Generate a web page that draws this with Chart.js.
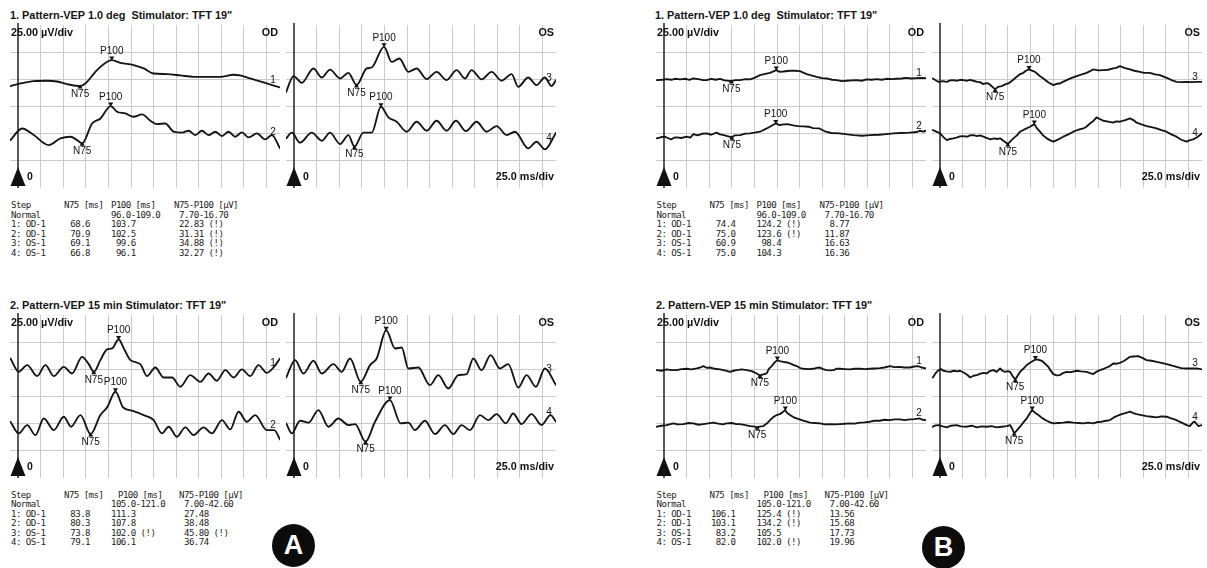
<!DOCTYPE html>
<html><head><meta charset="utf-8">
<script src="https://cdn.jsdelivr.net/npm/chart.js@4.4.1/dist/chart.umd.min.js"></script>
<style>
html,body{margin:0;padding:0;background:#fff;}
body{width:1207px;height:568px;position:relative;overflow:hidden;}
.cv{position:absolute;}
.ttl{position:absolute;font:bold 10.9px "Liberation Sans",Arial,sans-serif;color:#151515;white-space:pre;line-height:12px;}
.tb{position:absolute;font:9.1px "DejaVu Sans Mono",monospace;color:#1c1c1c;white-space:pre;line-height:10px;height:10px;letter-spacing:-0.55px;}
.circ{position:absolute;width:43px;height:43px;border-radius:50%;background:#0c0c0c;color:#fff;font:bold 27px "Liberation Sans",Arial,sans-serif;text-align:center;line-height:43px;}
</style></head><body>
<div class="ttl" style="left:10px;top:9px">1. Pattern-VEP 1.0 deg  Stimulator: TFT 19"</div>
<div class="ttl" style="left:10px;top:299px">2. Pattern-VEP 15 min Stimulator: TFT 19"</div>
<div class="ttl" style="left:655px;top:9px">1. Pattern-VEP 1.0 deg  Stimulator: TFT 19"</div>
<div class="ttl" style="left:656px;top:299px">2. Pattern-VEP 15 min Stimulator: TFT 19"</div>
<div class="circ" style="left:272px;top:524px">A</div>
<div class="circ" style="left:922px;top:526px">B</div>
<script>
// ---------- axis / grid ----------
const T_MIN = -9, T_MAX = 290;        // ms
const V_MIN = 0, V_MAX = 150;         // µV
const X_GRID = [0,25,50,75,100,125,150,175,200,225,250,275];
const Y_GRID = [25,50,75,100,125];
const UV_DIV = '25.00 µV/div';
const MS_DIV = '25.0 ms/div';

// ---------- traces [ms, µV] ----------
// A, 1.0 deg
const A1_OD_1 = [[-8.5,93.8],[2.6,96.2],[17.3,98.4],[32.1,98.7],[43.1,98.0],[54.2,95.6],[68.6,93.8],[74.5,96.2],[87.4,108.5],[103.7,117.7],[113.2,115.2],[127.9,113.1],[139,110.0],[150.1,105.4],[164.8,104.8],[179.6,103.6],[194.3,102.3],[209.1,102.3],[223.8,102.3],[238.6,104.2],[245.9,103.6],[257,100.8],[271.8,97.1],[290,92.5]];
const A1_OD_2 = [[-8.5,44.1],[4.4,54.8],[17.3,48.7],[33.9,39.5],[46.8,45.7],[57.9,47.2],[65.3,44.1],[70.9,41.1],[81.9,59.4],[91.1,64.0],[102.5,75.4],[109.5,70.2],[118.7,68.6],[127.9,65.6],[137.2,67.7],[146.4,61.9],[153.8,58.8],[163.0,59.4],[172.2,51.8],[181.4,50.9],[188.8,52.7],[196.2,48.7],[203.5,52.7],[210.9,48.7],[218.3,51.8],[225.7,47.8],[233.0,51.8],[240.4,47.2],[247.8,51.2],[255.2,46.6],[264.4,50.2],[273.6,44.7],[281.0,48.7],[290,36.5]];
const A1_OS_3 = [[-8.8,88.5],[-0.7,103.0],[8.5,96.8],[21.4,110.0],[30.6,101.7],[39.8,109.0],[50.9,100.8],[60.1,106.0],[69.1,94.7],[80.4,110.0],[85.9,110.9],[99.6,129.9],[108.0,116.1],[116.5,119.2],[126.5,106.9],[135.7,110.0],[146.8,100.2],[157.8,106.9],[168.9,99.3],[179.9,108.5],[189.2,100.8],[196.5,108.5],[207.6,99.9],[218.7,106.9],[229.7,98.7],[240.8,104.8],[248.2,93.1],[259.2,101.7],[268.4,94.7],[277.7,101.7],[285.0,93.8],[290,99.3]];
const A1_OS_4 = [[-8.8,45.6],[-2.6,50.9],[6.6,41.7],[19.5,50.9],[30.6,43.5],[39.8,50.9],[50.9,40.4],[60.1,48.7],[66.8,38.0],[76.7,50.9],[85.9,50.9],[96.1,74.8],[104.4,65.0],[113.6,61.0],[124.6,51.8],[135.7,61.0],[146.8,52.7],[157.8,61.9],[168.9,52.7],[179.2,61.9],[190.3,52.4],[202.1,61.0],[213.1,51.8],[224.2,57.0],[235.3,48.7],[244.5,51.8],[259.2,36.5],[268.4,42.6],[277.7,35.5],[290,50.9]];
// A, 15 min
const A2_OD_1 = [[-8.5,110.0],[0.7,97.7],[10.0,103.9],[21.0,93.8],[30.2,103.9],[39.5,93.8],[50.5,102.3],[59.7,96.2],[70.8,111.5],[78.2,104.8],[83.8,97.7],[91.1,108.5],[98.5,118.3],[104.0,119.2],[111.3,127.5],[117.6,118.3],[124.3,108.5],[135.3,104.8],[142.7,93.8],[151.9,101.7],[161.1,92.5],[170.4,92.5],[179.6,84.0],[190.6,94.7],[201.7,88.5],[210.9,96.2],[220.1,89.5],[229.4,99.3],[238.6,92.5],[247.8,99.9],[257.0,93.8],[266.2,103.9],[275.4,96.8],[282.8,101.7],[290,110.0]];
const A2_OD_2 = [[-8.5,51.8],[0.7,41.1],[10.0,48.7],[19.2,39.5],[28.4,54.8],[39.5,44.1],[50.5,56.4],[58.6,47.2],[69.0,57.9],[80.3,40.4],[91.1,57.9],[98.5,65.0],[107.8,79.4],[116.2,65.0],[126.1,61.9],[139.0,57.9],[150.1,53.3],[159.3,41.1],[166.7,47.2],[175.9,38.0],[185.1,46.6],[194.3,39.5],[205.4,46.6],[214.6,41.1],[225.7,53.3],[234.9,44.7],[244.1,61.0],[253.3,51.8],[262.5,57.9],[275.4,44.1],[283.6,44.1],[290,35.5]];
const A2_OS_3 = [[-8.8,92.5],[1.1,108.5],[10.3,96.2],[21.4,107.9],[30.6,96.2],[43.5,104.8],[52.7,97.7],[61.9,110.0],[73.8,88.5],[84.1,103.9],[91.4,110.0],[102.0,136.0],[111.7,119.2],[119.1,120.1],[126.5,100.8],[137.5,101.7],[150.4,85.5],[159.7,94.7],[170.7,82.4],[181.8,94.7],[191.0,95.6],[198.4,110.0],[207.6,99.3],[217.6,113.1],[227.9,100.8],[237.1,104.8],[248.2,83.3],[257.4,94.7],[267.7,84.0],[277.7,100.8],[290,85.5]];
const A2_OS_4 = [[-8.8,50.3],[-2.6,41.1],[6.6,52.7],[15.9,50.9],[26.9,62.5],[38.0,47.2],[49.0,54.8],[60.1,48.7],[67.5,49.6],[79.1,33.4],[89.6,51.8],[106.1,71.7],[118.0,50.3],[126.5,50.9],[133.8,44.1],[144.9,52.7],[156.0,40.4],[167.0,48.7],[176.3,40.4],[185.5,48.7],[194.7,44.1],[205.8,57.9],[215.0,53.3],[224.2,58.8],[234.5,50.3],[242.6,59.4],[251.8,49.6],[262.9,58.8],[274.0,48.7],[283.9,57.9],[290,51.8]];
// B, 1.0 deg
const B1_OD_1 = [[-8.1,99.3],[-2,99.6],[2.9,100.2],[8,99.6],[12,100.5],[17.7,99.9],[24,100.5],[28,99.6],[32.4,100.8],[38,100.2],[43,99.3],[47.2,99.3],[52,100.5],[57,99.6],[61.9,100.5],[67,99.0],[74.4,98.4],[79,99.3],[84.1,99.3],[90,100.2],[95.1,99.9],[100,101.4],[106.2,103.9],[112,105.1],[117.3,106.0],[124.2,108.5],[128,106.9],[132,107.2],[139.4,107.9],[145,107.9],[150.4,107.5],[157.8,104.8],[163,103.6],[168.9,102.3],[175,101.1],[179.9,100.8],[186,99.6],[191,99.3],[197,98.4],[202.1,98.7],[208,99.0],[213.1,99.3],[219,98.7],[224.2,99.9],[230,99.6],[235.3,100.2],[241,99.6],[246.3,100.5],[252,100.2],[257.4,100.5],[263,100.8],[268.4,101.4],[274,100.8],[279.5,101.1],[285,101.4],[289.8,101.1]];
const B1_OD_2 = [[-8.1,45.7],[-3,46.9],[0.7,47.2],[4,46.0],[7.7,44.7],[11,46.3],[14,46.6],[19,46.0],[25,47.2],[29,46.3],[32.4,49.6],[37,48.4],[42,49.9],[47.2,50.3],[52,49.0],[58,50.9],[61.9,49.3],[66,48.7],[70,47.8],[75.0,46.6],[78,48.4],[84.1,48.7],[90,50.0],[95.1,50.3],[100,50.9],[106.2,51.8],[113.6,54.8],[119,57.3],[123.6,59.4],[128,57.9],[132,58.5],[136.7,58.8],[143,57.6],[148,57.0],[154,56.7],[160,56.4],[165,55.1],[172,54.8],[179,51.8],[185,50.6],[194,50.3],[203,49.3],[210,48.7],[219,48.1],[228,48.7],[238,49.0],[246,49.6],[254,50.3],[262,50.6],[272,50.9],[280,51.5],[283,52.7],[287,51.8],[289.8,52.7]];
const B1_OS_3 = [[-8.1,100.8],[-4,98.7],[-1.8,97.7],[3,98.4],[7.4,97.7],[11,99.0],[14.7,99.3],[19,98.7],[22,99.6],[25.8,99.3],[30,98.7],[33,99.6],[36.9,98.7],[41,97.7],[44,97.4],[47.9,95.6],[51,96.5],[53.5,96.2],[57,93.8],[60.9,90.7],[64,93.1],[68.2,93.8],[72,95.3],[75.6,96.2],[80,99.0],[84.8,102.3],[88,104.5],[92.2,106.0],[95,107.9],[98.4,109.1],[101,108.2],[105.1,106.9],[110,103.3],[114.3,100.8],[120,97.1],[125.4,94.7],[129,95.9],[132.7,96.2],[136,97.7],[140.1,99.3],[145,101.1],[151.2,103.0],[157,104.5],[162.2,106.0],[166,107.5],[169.6,109.1],[175,108.2],[180.7,108.5],[186,108.8],[191.7,110.0],[195,110.6],[199.1,112.1],[204,110.6],[210.2,109.1],[215,107.9],[221.2,106.9],[226,106.0],[232.3,106.0],[238,104.5],[243.4,103.9],[248,102.3],[252.6,100.8],[257,99.0],[261.8,97.7],[267,97.4],[272.9,97.7],[278,97.4],[283.9,97.7],[290,97.7]];
const B1_OS_4 = [[-8.1,53.3],[-3,51.5],[0,50.3],[4,46.6],[7.4,44.1],[11,45.1],[14.7,45.7],[19,46.6],[22,47.5],[25.8,47.8],[30,47.2],[33,48.4],[36.9,48.7],[41,47.8],[44,48.4],[47.9,47.2],[52,46.0],[55.3,44.7],[60,45.7],[63,45.1],[66.4,45.7],[70,43.5],[75.0,40.4],[78,43.2],[81.1,45.7],[85,48.4],[88.5,51.8],[94,54.2],[99.6,56.4],[104.3,58.8],[107,55.1],[110.6,51.8],[114,48.4],[118,45.7],[122,43.8],[125.4,42.6],[131,44.7],[136.4,47.2],[142,49.3],[147.5,51.8],[153,53.6],[158.6,54.8],[162,56.4],[165.9,59.4],[170,61.9],[173.3,65.0],[177,63.3],[180.7,61.9],[186,61.0],[191.7,60.1],[195,61.3],[199.1,61.0],[205,62.5],[210.2,64.0],[214,62.5],[217.6,60.1],[223,58.5],[228.6,57.0],[234,56.1],[239.7,54.8],[245,53.3],[250.7,51.8],[256,49.3],[261.8,47.2],[267,44.4],[272.9,42.6],[276,43.8],[280.2,44.7],[285,46.9],[290,50.3]];
// B, 15 min
const B2_OD_1 = [[-8.1,99.3],[-3,98.7],[2.9,99.9],[8,99.3],[14,99.3],[19,100.2],[25.1,100.5],[30,99.9],[36.1,100.8],[40,101.7],[43.5,103.0],[47,101.4],[50.9,101.7],[56,100.5],[61.9,99.9],[67,99.0],[73,97.7],[77,98.7],[80.4,99.3],[86,99.9],[91.4,99.3],[97,98.4],[102.5,96.2],[106.1,94.4],[110,95.3],[113.6,96.2],[116,100.5],[119.1,103.0],[122,106.0],[125.4,108.5],[128,107.5],[132,106.9],[136,106.3],[139.4,105.4],[143,104.2],[146.8,103.0],[150,101.4],[154.1,100.5],[160,100.2],[165.2,100.5],[169,101.4],[172.6,101.7],[176,100.2],[179.9,99.3],[184,99.0],[187.3,99.3],[191,100.5],[194.7,100.5],[200,100.2],[205.8,99.9],[211,100.5],[216.8,100.5],[222,100.2],[227.9,100.5],[233,100.8],[238.9,101.1],[244,101.7],[250,103.0],[255,102.0],[261.1,102.3],[266,101.7],[272.1,101.7],[277,102.6],[281.3,103.0],[285,101.7],[289.8,100.8]];
const B2_OD_2 = [[-8.1,47.2],[-3,48.1],[2.9,48.7],[7,49.6],[10.3,50.3],[15,49.3],[21.4,49.6],[27,50.6],[32.4,50.3],[38,49.0],[43.5,49.6],[49,50.3],[54.6,50.9],[60,50.0],[65,49.3],[69.3,50.3],[75,50.6],[80,49.6],[84.1,49.6],[90,48.7],[95.1,47.8],[99,47.5],[103.1,46.6],[107,47.5],[109.9,47.8],[114,50.3],[117.3,53.3],[121,56.1],[124.6,57.9],[128,58.8],[131,60.4],[134.2,62.5],[136,60.1],[139.4,57.9],[143,56.1],[146.8,54.8],[150,53.9],[154.1,52.7],[158,51.8],[161.5,50.9],[167,50.6],[172.6,50.3],[178,49.3],[183.6,49.6],[189,49.3],[194.7,49.6],[200,49.9],[205.8,50.3],[211,50.0],[216.8,50.9],[222,51.2],[227.9,51.8],[233,52.7],[238.9,52.7],[244,53.6],[250,53.3],[255,53.9],[261.1,53.9],[266,53.3],[272.1,53.9],[277,54.2],[283.2,54.8],[286,53.6],[289.8,53.3]];
const B2_OS_3 = [[-8.1,92.5],[-5,96.5],[-1.8,99.3],[1,100.2],[3.7,98.7],[7,98.1],[11.1,97.7],[15,98.7],[19,98.1],[22.1,98.7],[26,97.1],[30,95.0],[33.2,92.5],[37,94.1],[40.6,94.7],[44,95.9],[48,96.8],[51.6,96.2],[55,98.4],[59,99.3],[62.7,97.7],[66.4,100.8],[69,98.7],[71.9,97.7],[75,98.4],[77.4,97.7],[80,94.1],[83.2,90.7],[86,94.4],[88.5,97.7],[92,100.5],[95.9,103.9],[100,106.3],[105.5,109.1],[109,108.8],[112.5,107.9],[116,105.4],[119.8,102.3],[122,99.3],[125.4,95.6],[129,94.4],[132.7,94.7],[136,96.5],[140.1,97.7],[145,97.4],[151.2,98.7],[156,98.1],[162.2,97.7],[166,96.5],[169.6,95.6],[173,97.7],[177,99.3],[181,100.5],[184.4,101.7],[188,103.0],[191.7,105.4],[195,105.1],[199.1,106.0],[204,107.9],[210.2,111.5],[214,111.8],[219.4,112.1],[224,110.6],[228.6,108.5],[234,107.9],[239.7,106.9],[245,106.0],[250.7,104.8],[256,103.6],[261.8,102.3],[267,101.1],[272.9,100.8],[278,100.8],[283.9,100.8],[290,99.9]];
const B2_OS_4 = [[-8.1,47.2],[-5,48.4],[-1.8,48.7],[3,47.5],[7.4,46.6],[12,48.1],[18.4,48.7],[23,47.5],[29.5,47.2],[35,48.1],[40.6,46.6],[46,47.5],[51.6,47.2],[57,47.8],[62.7,46.6],[68,47.2],[73.7,47.8],[77.4,48.7],[80,45.1],[82.0,41.1],[86,44.7],[88.5,47.2],[92,50.9],[95.9,54.8],[99,59.1],[102.0,62.5],[105,60.1],[108.8,57.9],[113,55.1],[118,52.7],[122,51.2],[125.4,50.3],[131,50.6],[136.4,50.9],[142,51.5],[147.5,50.9],[153,50.6],[158.6,50.3],[164,50.9],[169.6,50.3],[174,51.5],[178.8,51.8],[184,52.7],[188.1,53.3],[192,55.5],[195.4,57.0],[201,58.8],[205,59.7],[210.2,61.0],[214,59.7],[217.6,58.8],[223,57.9],[228.6,57.0],[234,56.4],[239.7,55.8],[245,56.7],[250.7,56.4],[256,54.8],[261.8,53.3],[265,51.8],[269.2,50.3],[273,48.7],[276.5,47.8],[280,51.2],[282.1,51.8],[285.8,47.8],[290,48.7]];

// ---------- result tables ----------
const STEP_NAMES = ['1: OD-1','2: OD-1','3: OS-1','4: OS-1'];
const A1_N75 = [68.6,70.9,69.1,66.8],  A1_P100 = [103.7,102.5,99.6,96.1],   A1_AMP = [22.83,31.31,34.88,32.27];
const A2_N75 = [83.8,80.3,73.8,79.1],  A2_P100 = [111.3,107.8,102.0,106.1], A2_AMP = [27.48,38.48,45.80,36.74];
const B1_N75 = [74.4,75.0,60.9,75.0],  B1_P100 = [124.2,123.6,98.4,104.3],  B1_AMP = [8.77,11.87,16.63,16.36];
const B2_N75 = [106.1,103.1,83.2,82.0],B2_P100 = [125.4,134.2,105.5,102.0], B2_AMP = [13.56,15.68,17.73,19.96];
const NORM1_P100 = [96.0,109.0], NORM1_AMP = [7.70,16.70];
const NORM2_P100 = [105.0,121.0], NORM2_AMP = [7.00,42.60];

// ---------- layout ----------
const AREA_W = 270, AREA_H = 163;
const PAD = {left:16, top:14, right:6, bottom:2};

const specs = new Map();
function nearest(tr, t){ let b = tr[0]; for (const p of tr) if (Math.abs(p[0]-t) < Math.abs(b[0]-t)) b = p; return b; }
function interp(tr, t){
  for (let i=1;i<tr.length;i++){ if (tr[i][0] >= t){ const a=tr[i-1], b=tr[i]; const f=(t-a[0])/(b[0]-a[0]); return a[1]+f*(b[1]-a[1]); } }
  return tr[tr.length-1][1];
}
function tri(ctx, px, tipY, baseY){ ctx.beginPath(); ctx.moveTo(px,tipY); ctx.lineTo(px-2.6,baseY); ctx.lineTo(px+2.6,baseY); ctx.closePath(); ctx.fill(); }

const decor = {
  id:'decor',
  beforeDatasetsDraw(chart){
    const {ctx, chartArea:a, scales:{x}} = chart;
    const x0 = Math.round(x.getPixelForValue(0));
    ctx.save(); ctx.strokeStyle='#303030'; ctx.lineWidth=1.6;
    ctx.beginPath(); ctx.moveTo(x0, a.top-2); ctx.lineTo(x0, a.bottom); ctx.stroke(); ctx.restore();
  },
  afterDatasetsDraw(chart){
    const s = specs.get(chart.canvas);
    const {ctx, chartArea:a, scales:{x,y}} = chart;
    const x0 = Math.round(x.getPixelForValue(0));
    ctx.save();
    ctx.fillStyle='#111';
    ctx.beginPath(); ctx.moveTo(x0, a.bottom-21); ctx.lineTo(x0-7.5,a.bottom-2); ctx.lineTo(x0+7.5,a.bottom-2); ctx.closePath(); ctx.fill();
    ctx.font='bold 10.5px "Liberation Sans", Arial, sans-serif'; ctx.textBaseline='middle';
    ctx.textAlign='left'; ctx.fillText('0', x0+9, a.bottom-11);
    ctx.font='bold 10.8px "Liberation Sans", Arial, sans-serif';
    if (s.eye==='OD') ctx.fillText(UV_DIV, x0-7, a.top+8);
    ctx.textAlign='right'; ctx.fillText(s.eye, a.right-2, a.top+8);
    if (s.eye==='OS') ctx.fillText(MS_DIV, a.right-2, a.bottom-11);
    ctx.font='10px "Liberation Sans", Arial, sans-serif'; ctx.textAlign='center';
    s.traces.forEach((tr,i)=>{
      let p = nearest(tr, s.n75[i]);
      let px = x.getPixelForValue(s.n75[i]), py = y.getPixelForValue(p[1]);
      tri(ctx, px, py-1.5, py+2.5); ctx.fillText('N75', px, py+8);
      p = nearest(tr, s.p100[i]);
      px = x.getPixelForValue(s.p100[i]); py = y.getPixelForValue(p[1]);
      tri(ctx, px, py+0.5, py-3.5); ctx.fillText('P100', px, py-9);
      const lx = a.right-7, lt = x.getValueForPixel(lx);
      ctx.fillText(s.nums[i], lx, y.getPixelForValue(interp(tr, lt))-5);
    });
    ctx.restore();
  }
};

const chartSpecs = [
  {left:10,  top:25,  eye:'OD', traces:[A1_OD_1,A1_OD_2], nums:['1','2'], n75:A1_N75.slice(0,2), p100:A1_P100.slice(0,2), smooth:true},
  {left:286, top:25,  eye:'OS', traces:[A1_OS_3,A1_OS_4], nums:['3','4'], n75:A1_N75.slice(2),   p100:A1_P100.slice(2),   smooth:true},
  {left:10,  top:315, eye:'OD', traces:[A2_OD_1,A2_OD_2], nums:['1','2'], n75:A2_N75.slice(0,2), p100:A2_P100.slice(0,2), smooth:true},
  {left:286, top:315, eye:'OS', traces:[A2_OS_3,A2_OS_4], nums:['3','4'], n75:A2_N75.slice(2),   p100:A2_P100.slice(2),   smooth:true},
  {left:656, top:25,  eye:'OD', traces:[B1_OD_1,B1_OD_2], nums:['1','2'], n75:B1_N75.slice(0,2), p100:B1_P100.slice(0,2), smooth:false},
  {left:932, top:25,  eye:'OS', traces:[B1_OS_3,B1_OS_4], nums:['3','4'], n75:B1_N75.slice(2),   p100:B1_P100.slice(2),   smooth:false},
  {left:656, top:315, eye:'OD', traces:[B2_OD_1,B2_OD_2], nums:['1','2'], n75:B2_N75.slice(0,2), p100:B2_P100.slice(0,2), smooth:false},
  {left:932, top:315, eye:'OS', traces:[B2_OS_3,B2_OS_4], nums:['3','4'], n75:B2_N75.slice(2),   p100:B2_P100.slice(2),   smooth:false}
];

const gridCol = '#cbcbcb';
chartSpecs.forEach(s=>{
  const c = document.createElement('canvas');
  const w = AREA_W + PAD.left + PAD.right, h = AREA_H + PAD.top + PAD.bottom;
  c.width = w; c.height = h; c.className = 'cv';
  c.style.width = w+'px'; c.style.height = h+'px';
  c.style.left = (s.left-PAD.left)+'px'; c.style.top = (s.top-PAD.top)+'px';
  document.body.appendChild(c);
  specs.set(c, s);
  new Chart(c, {
    type:'line',
    data:{datasets: s.traces.map(tr=>({
      data: tr.map(p=>({x:p[0], y:p[1]})),
      borderColor:'#141414', borderWidth:1.85, pointRadius:0, fill:false,
      tension:0, cubicInterpolationMode: s.smooth ? 'monotone' : 'default',
      borderJoinStyle:'round', borderCapStyle:'round'
    }))},
    options:{
      animation:false, responsive:false, maintainAspectRatio:false, events:[],
      layout:{padding:PAD},
      plugins:{legend:{display:false}, tooltip:{enabled:false}},
      scales:{
        x:{type:'linear', min:T_MIN, max:T_MAX,
           afterBuildTicks:a=>{a.ticks = X_GRID.map(v=>({value:v}));},
           ticks:{display:false}, border:{display:false},
           grid:{color:ctx=> (ctx.tick && ctx.tick.value===0) ? 'rgba(0,0,0,0)' : gridCol, lineWidth:1, drawTicks:false}},
        y:{type:'linear', min:V_MIN, max:V_MAX,
           afterBuildTicks:a=>{a.ticks = Y_GRID.map(v=>({value:v}));},
           ticks:{display:false}, border:{display:false},
           grid:{color:gridCol, lineWidth:1, drawTicks:false}}
      }
    },
    plugins:[decor]
  });
});

// ---------- tables ----------
function addText(txt, left, cy, extra){
  const d = document.createElement('div'); d.className='tb'; d.textContent = txt;
  d.style.left = left+'px'; d.style.top = (cy-5)+'px';
  if (extra) Object.assign(d.style, extra);
  document.body.appendChild(d);
}
function table(left, top, lh, n75, p100, amp, normP, normA, colP100H, colAmpH, colAmpV){
  addText('Step', left, top); addText('N75 [ms]', left+53, top);
  addText('P100 [ms]', left+colP100H, top); addText('N75-P100 [µV]', left+colAmpH, top);
  const y1 = top+lh;
  addText('Normal', left, y1);
  addText(normP[0].toFixed(1)+'-'+normP[1].toFixed(1), left+100, y1);
  addText(normA[0].toFixed(2)+'-'+normA[1].toFixed(2), left+colAmpV, y1);
  STEP_NAMES.forEach((nm,i)=>{
    const y = top+lh*(i+2);
    addText(nm, left, y);
    addText(n75[i].toFixed(1), left, y, {width:'79px', textAlign:'right'});
    const fp = (p100[i]<normP[0]||p100[i]>normP[1]) ? ' (!)' : '';
    addText(p100[i].toFixed(1).padStart(5)+fp, left+100, y);
    const fa = (amp[i]<normA[0]||amp[i]>normA[1]) ? ' (!)' : '';
    addText(amp[i].toFixed(2).padStart(5)+fa, left+colAmpV, y);
  });
}
table(11, 205, 9.6, A1_N75, A1_P100, A1_AMP, NORM1_P100, NORM1_AMP, 100, 163, 168);
table(11, 495, 9.4, A2_N75, A2_P100, A2_AMP, NORM2_P100, NORM2_AMP, 107, 168, 173);
table(656.5, 205, 9.6, B1_N75, B1_P100, B1_AMP, NORM1_P100, NORM1_AMP, 100, 163, 168);
table(656.5, 495, 9.4, B2_N75, B2_P100, B2_AMP, NORM2_P100, NORM2_AMP, 107, 168, 173);
</script>
</body></html>
